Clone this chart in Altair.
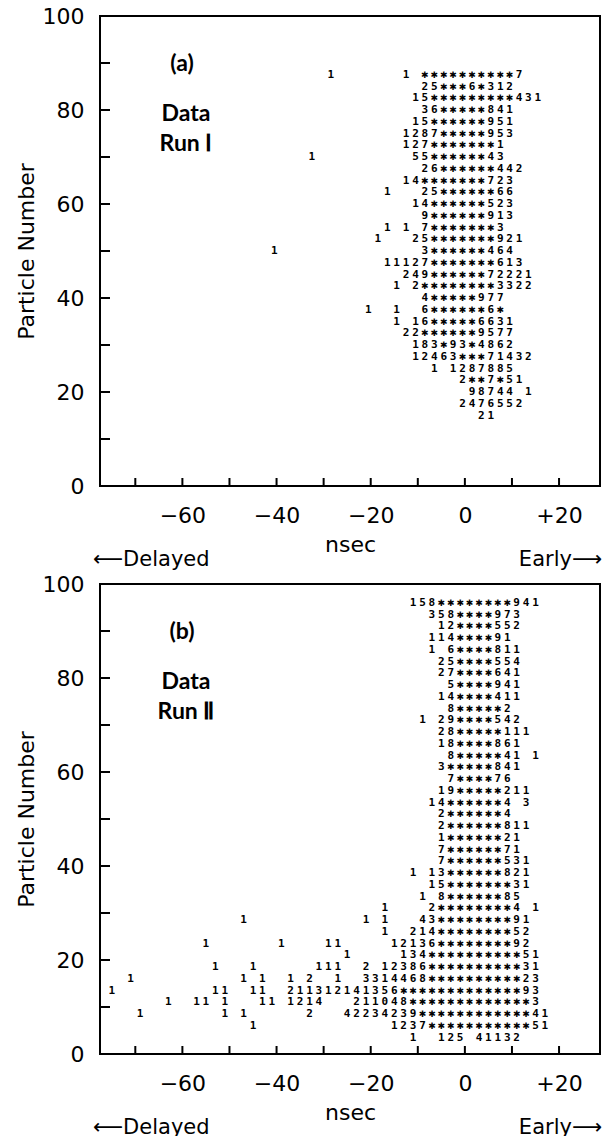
import altair as alt
import pandas as pd

# ---------------- data ----------------
X_DOMAIN = [-77.5, 28.7]          # nsec
Y_DOMAIN = [0, 100]               # particle number
X_LABELS = [-60, -40, -20, 0, 20]
Y_LABELS = [0, 20, 40, 60, 80, 100]
X_TICKS = [-70, -60, -50, -40, -30, -20, -10, 0, 10, 20]
Y_TICKS = [10, 20, 30, 40, 50, 60, 70, 80, 90]
BIN_NS = 2                        # width of one printed column, nsec

# Run I : (particle number, [(first column in nsec, printed characters)])
ROWS_A = [
    (87.5, [(-28.5, "1"), (-12.5, "1 **********7")]),
    (85.0, [(-8.5, "25***6*312")]),
    (82.5, [(-10.5, "15*********431")]),
    (80.0, [(-8.5, "36*****841")]),
    (77.5, [(-10.5, "15******951")]),
    (75.0, [(-12.5, "1287*****953")]),
    (72.5, [(-12.5, "127*******1")]),
    (70.0, [(-32.5, "1"), (-10.5, "55******43")]),
    (67.5, [(-8.5, "26******442")]),
    (65.0, [(-12.5, "14*******723")]),
    (62.5, [(-16.5, "1"), (-8.5, "25******66")]),
    (60.0, [(-10.5, "14******523")]),
    (57.5, [(-8.5, "9******913")]),
    (55.0, [(-16.5, "1 1 7*******3")]),
    (52.5, [(-18.5, "1"), (-10.5, "25*******921")]),
    (50.0, [(-40.5, "1"), (-8.5, "3******464")]),
    (47.5, [(-16.5, "11127*******613")]),
    (45.0, [(-12.5, "249******72221")]),
    (42.5, [(-14.5, "1"), (-10.5, "2********3322")]),
    (40.0, [(-8.5, "4*****977")]),
    (37.5, [(-20.5, "1"), (-14.5, "1"), (-8.5, "6******6*")]),
    (35.0, [(-14.5, "1"), (-10.5, "16*****6631")]),
    (32.5, [(-12.5, "22******9577")]),
    (30.0, [(-10.5, "183*93*4862")]),
    (27.5, [(-10.5, "12463***71432")]),
    (25.0, [(-6.5, "1"), (-2.5, "1287885")]),
    (22.5, [(-0.5, "2**7*51")]),
    (20.0, [(1.5, "98744 1")]),
    (17.5, [(-0.5, "2476552")]),
    (15.0, [(3.5, "21")]),
]

# Run II
ROWS_B = [
    (96.0, [(-11, "158********941")]),
    (93.5, [(-7, "358****973")]),
    (91.0, [(-5, "12****552")]),
    (88.5, [(-7, "114****91")]),
    (86.0, [(-7, "1 6****811")]),
    (83.5, [(-5, "25****554")]),
    (81.0, [(-5, "27****641")]),
    (78.5, [(-3, "5****941")]),
    (76.0, [(-5, "14****411")]),
    (73.5, [(-3, "8*****2")]),
    (71.0, [(-9, "1 29****542")]),
    (68.5, [(-5, "28*****111")]),
    (66.0, [(-5, "18****861")]),
    (63.5, [(-3, "8*****41 1")]),
    (61.0, [(-5, "3*****841")]),
    (58.5, [(-3, "7****76")]),
    (56.0, [(-5, "19*****211")]),
    (53.5, [(-7, "14******4 3")]),
    (51.0, [(-5, "2******4")]),
    (48.5, [(-5, "2******811")]),
    (46.0, [(-5, "1******21")]),
    (43.5, [(-5, "7******71")]),
    (41.0, [(-5, "7******531")]),
    (38.5, [(-11, "1 13******821")]),
    (36.0, [(-7, "15*******31")]),
    (33.5, [(-9, "1 8******85")]),
    (31.0, [(-17, "1    2********4 1")]),
    (28.5, [(-47, "1"), (-21, "1 1"), (-9, "43********91")]),
    (26.0, [(-17, "1"), (-11, "214********52")]),
    (23.5, [(-55, "1"), (-39, "1"), (-29, "11"), (-15, "12136********92")]),
    (21.0, [(-25, "1"), (-13, "134**********51")]),
    (18.5, [(-53, "1"), (-45, "1"), (-31, "111"), (-21, "2"), (-17, "12386**********31")]),
    (16.0, [(-71, "1"), (-47, "1 1"), (-37, "1 2"), (-27, "1"), (-21, "3314468**********23")]),
    (13.5, [(-75, "1"), (-53, "11"), (-45, "11"), (-37, "211312141356*************93")]),
    (11.0, [(-63, "1"), (-57, "11"), (-51, "1"), (-43, "11"), (-37, "1214"), (-23, "211048*************3")]),
    (8.5, [(-69, "1"), (-51, "1"), (-47, "1"), (-33, "2"), (-25, "42234239************41")]),
    (6.0, [(-45, "1"), (-15, "1237***********51")]),
    (3.5, [(-11, "1"), (-5, "125"), (3, "41132")]),
]

# ---------------- helpers ----------------
LABEL_FONT = "DejaVu Sans"
CHAR_FONT = "DejaVu Sans Mono"
W, H = 500, 470


def expand(rows):
    recs = []
    for y, segs in rows:
        for x0, s in segs:
            for i, ch in enumerate(s):
                if ch == " ":
                    continue
                recs.append({"x": x0 + BIN_NS * i, "y": y, "ch": ch})
    return pd.DataFrame(recs)


X_ENC = alt.X(
    "x:Q",
    scale=alt.Scale(domain=X_DOMAIN, nice=False, zero=False),
    axis=alt.Axis(
        values=X_LABELS,
        labelExpr="datum.value > 0 ? '+' + datum.value : (datum.value < 0 ? '\u2212' + abs(datum.value) : '0')",
        labelFont=LABEL_FONT, labelFontSize=22, labelColor="black",
        labelPadding=19, ticks=False, domain=False, grid=False,
        title="nsec", titleFont=LABEL_FONT, titleFontSize=22,
        titleFontWeight="normal", titleColor="black",
        titleX=W / 2, titleY=65, titleAlign="center", titleBaseline="alphabetic",
    ),
)
Y_ENC = alt.Y(
    "y:Q",
    scale=alt.Scale(domain=Y_DOMAIN, nice=False, zero=False),
    axis=alt.Axis(
        values=Y_LABELS,
        labelFont=LABEL_FONT, labelFontSize=22, labelColor="black",
        labelPadding=16, ticks=False, domain=False, grid=False,
        title="Particle Number", titleFont=LABEL_FONT, titleFontSize=22,
        titleFontWeight="normal", titleColor="black",
        titleAngle=270, titleX=-74, titleY=H / 2,
        titleAlign="center", titleBaseline="middle",
    ),
)


def panel(rows, tag, run, spacer):
    df = expand(rows)
    digits = alt.Chart(df).transform_filter("datum.ch != '*'").mark_text(
        font=CHAR_FONT, fontWeight="bold", fontSize=11, color="black",
        align="center", baseline="middle",
    ).encode(x=X_ENC, y=Y_ENC, text="ch:N")
    stars = alt.Chart(df).transform_filter("datum.ch == '*'").mark_text(
        font=LABEL_FONT, fontWeight="bold", fontSize=9, color="black",
        align="center", baseline="middle", text="\u2731",
    ).encode(x=X_ENC, y=Y_ENC)

    yt = alt.Chart(pd.DataFrame({"y": Y_TICKS})).mark_rule(
        color="black", strokeWidth=2
    ).encode(y=Y_ENC, x=alt.value(0), x2=alt.value(10))
    xt = alt.Chart(pd.DataFrame({"x": X_TICKS})).mark_rule(
        color="black", strokeWidth=2
    ).encode(x=X_ENC, y=alt.value(H), y2=alt.value(H - 8))

    one = pd.DataFrame({"k": [0]})
    def note(txt, px, py, size=23, weight="bold", align="center",
             baseline="middle", font="Lato", color="black"):
        return alt.Chart(one).mark_text(
            font=font, fontSize=size, fontWeight=weight, color=color,
            align=align, baseline=baseline,
        ).encode(x=alt.value(px), y=alt.value(py), text=alt.value(txt))

    layers = [
        yt, xt, digits, stars,
        note(tag, 82, 48),
        note("Data", 86, 98),
        note("Run " + run, 86, 128),
        note("\u27f5Delayed", -7, H + 80, size=21, weight="normal",
             align="left", baseline="alphabetic", font=LABEL_FONT),
        note("Early\u27f6", 502, H + 80, size=21, weight="normal",
             align="right", baseline="alphabetic", font=LABEL_FONT),
    ]
    if spacer:
        layers.append(note(".", -91, H / 2, size=10, weight="normal",
                           align="left", font=LABEL_FONT, color="white"))
    return alt.layer(*layers).properties(width=W, height=H)


pa = panel(ROWS_A, "(a)", "\u2160", True)
pb = panel(ROWS_B, "(b)", "\u2161", False)

chart = alt.vconcat(pa, pb, spacing=1).properties(
    padding={"left": 8, "top": 4, "right": 0, "bottom": 0},
    background="white",
).configure_view(stroke="black", strokeWidth=2)

chart.save("out.html", embed_options={"renderer": "svg", "actions": False})
